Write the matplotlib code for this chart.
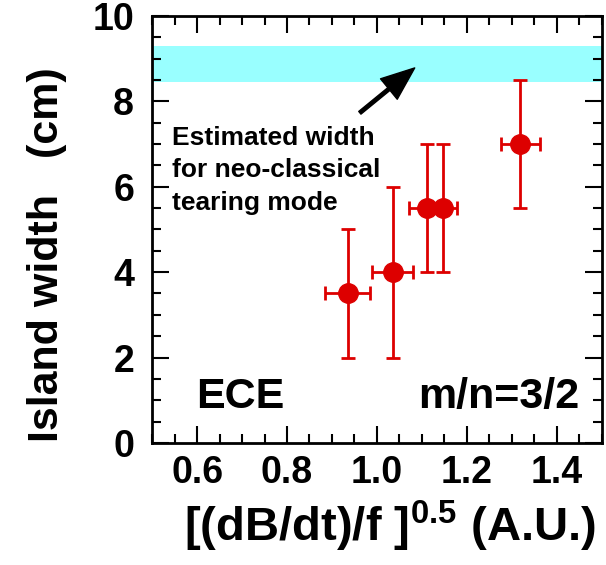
import matplotlib
matplotlib.use("Agg")
import matplotlib.pyplot as plt
from matplotlib.ticker import MultipleLocator

plt.rcParams['font.family'] = ['Liberation Sans', 'DejaVu Sans']
plt.rcParams['font.weight'] = 'bold'
plt.rcParams['mathtext.fontset'] = 'custom'
plt.rcParams['mathtext.rm'] = 'Liberation Sans:bold'
plt.rcParams['mathtext.bf'] = 'Liberation Sans:bold'

# measured points (ECE, m/n=3/2)
xVals = [0.935, 1.035, 1.112, 1.147, 1.319]
yVals = [3.5, 4.0, 5.5, 5.5, 7.0]
xErr = [0.05, 0.045, 0.04, 0.03, 0.043]
yErr = [1.5, 2.0, 1.5, 1.5, 1.5]

# estimated neo-classical tearing mode width band
bandLow = 8.45
bandHigh = 9.3

RED = '#dd0000'

fig = plt.figure(figsize=(6.06, 5.65), dpi=100)
ax = fig.add_axes([0.251, 0.216, 0.742, 0.756])

ax.axhspan(bandLow, bandHigh, color='#99ffff', lw=0, zorder=0)

ax.errorbar(xVals, yVals, xerr=xErr, yerr=yErr, fmt='o', color=RED,
            ecolor=RED, markersize=14, elinewidth=2, capsize=5, capthick=2,
            zorder=3)

ax.annotate('', xy=(1.084, 8.78), xytext=(0.962, 7.73),
            arrowprops=dict(facecolor='black', edgecolor='black', width=2.5,
                            headwidth=19, headlength=24, shrink=0))

ax.text(0.544, 7.43, 'Estimated width\nfor neo-classical\ntearing mode',
        fontsize=19, fontweight='bold', va='top', ha='left', linespacing=1.45)
ax.text(0.598, 0.82, 'ECE', fontsize=31, fontweight='bold')
ax.text(1.451, 0.82, 'm/n=3/2', fontsize=31, fontweight='bold', ha='right')

ax.set_xlim(0.5, 1.5)
ax.set_ylim(0, 10)
ax.xaxis.set_minor_locator(MultipleLocator(0.05))
ax.yaxis.set_major_locator(MultipleLocator(2))
ax.yaxis.set_minor_locator(MultipleLocator(0.5))
ax.set_xticks([0.6, 0.8, 1.0, 1.2, 1.4])
ax.set_xticklabels(['0.6', '0.8', '1.0', '1.2', '1.4'])

ax.tick_params(which='both', direction='in', top=True, right=True, width=1.5)
ax.tick_params(which='major', length=12, labelsize=27)
ax.tick_params(axis='x', which='major', pad=9)
ax.tick_params(axis='y', which='major', pad=13)
ax.tick_params(which='minor', length=6.5)
for s in ax.spines.values():
    s.set_linewidth(2)

ax.set_xlabel(r'[(dB/dt)/f ]$^{0.5}$ (A.U.)', fontsize=34, fontweight='bold',
              va='top')
ax.xaxis.set_label_coords(0.53, -0.13)
ax.set_ylabel('Island width   (cm)', fontsize=31, fontweight='bold')
ax.yaxis.set_label_coords(-0.19, 0.44)

fig.savefig('out.png', dpi=100)
